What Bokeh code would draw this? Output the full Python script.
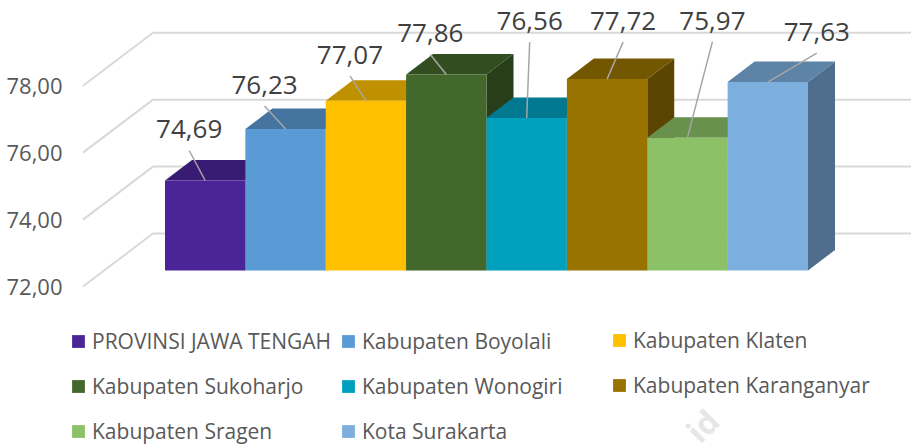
from bokeh.plotting import figure
from bokeh.embed import file_html
from bokeh.resources import INLINE
from bokeh.models import Legend, LegendItem, FixedTicker, Range1d
from bokeh.core.properties import value
import math

categories = ["PROVINSI JAWA TENGAH", "Kabupaten Boyolali", "Kabupaten Klaten", "Kabupaten Sukoharjo",
              "Kabupaten Wonogiri", "Kabupaten Karanganyar", "Kabupaten Sragen", "Kota Surakarta"]
values = [74.69, 76.23, 77.07, 77.86, 76.56, 77.72, 75.97, 77.63]
labels = ["74,69", "76,23", "77,07", "77,86", "76,56", "77,72", "75,97", "77,63"]
front_colors = ["#4B2597", "#5B9BD5", "#FFC000", "#43682B", "#00A0BF", "#997300", "#8CC168", "#7CAFDD"]
top_colors = ["#381C73", "#44749F", "#BF9000", "#324E20", "#00788F", "#735600", "#69914E", "#5D83A6"]
side_colors = ["#2C1659", "#365C7F", "#997300", "#283E1A", "#006072", "#5C4500", "#54743E", "#4F6E8D"]
ticks = [72, 74, 76, 78]
tick_labels = {72: "72,00", 74: "74,00", 76: "76,00", 78: "78,00"}

# px scales of the pseudo-3D projection
PX_X, PX_Y = 80.375, 33.46
leader_dx = [-16, -21, -16, -16, 3, 16, 25, 49]
leader_dy = [30, 23, 25, 20, 76, 37, 96, 29]
DEPTH_X, DEPTH_Y = 27 / PX_X, 20.5 / PX_Y       # bar depth
BASE = 72 + 16 / PX_Y                            # floor of the bars' front plane
WALL_X0, WALL_X1 = (83 - 165) / PX_X, (153 - 165) / PX_X
WALL_DY = 53 / PX_Y

p = figure(width=911, height=445, output_backend="svg", toolbar_location=None,
           x_range=Range1d((68 - 164.5) / PX_X, (911 - 164.5) / PX_X),
           y_range=Range1d(72 - (445 - 286) / PX_Y, 72 + 286 / PX_Y),
           min_border_left=68, min_border_right=0, min_border_top=0, min_border_bottom=0,
           outline_line_color=None)
p.xaxis.visible = False
p.xgrid.visible = False
p.ygrid.visible = False
ax = p.yaxis[0]
ax.ticker = FixedTicker(ticks=ticks)
ax.major_label_overrides = tick_labels
ax.axis_line_color = None
ax.major_tick_line_color = None
ax.minor_tick_line_color = None
ax.major_tick_out = 0
ax.major_label_standoff = 6
ax.major_label_text_font = "Open Sans"
ax.major_label_text_font_size = "22px"
ax.major_label_text_color = "#595959"

# walls / gridlines
x_end = 10.0
p.multi_line([[WALL_X0, WALL_X1, x_end] for _ in ticks],
             [[t, t + WALL_DY, t + WALL_DY] for t in ticks],
             line_color="#D9D9D9", line_width=2)

# faint watermark fragment at the lower edge
p.text([(702 - 165) / PX_X], [72 - (425 - 286) / PX_Y], text=["id"], text_font=value("Open Sans"),
       text_font_size="32px", text_font_style="bold", text_color="#E6E6E6", angle=math.pi / 4,
       text_align="center", text_baseline="middle")

items = []
for i, v in enumerate(values):
    l, r = i, i + 1
    t = v + (BASE - 72)
    p.patch([r, r + DEPTH_X, r + DEPTH_X, r], [BASE, BASE + DEPTH_Y, t + DEPTH_Y, t],
            fill_color=side_colors[i], line_color=None)
    p.patch([l, l + DEPTH_X, r + DEPTH_X, r], [t, t + DEPTH_Y, t + DEPTH_Y, t],
            fill_color=top_colors[i], line_color=None)
    q = p.quad(left=[l], right=[r], bottom=[BASE], top=[t], fill_color=front_colors[i], line_color=None)
    items.append(LegendItem(label=value(categories[i]), renderers=[q]))

for i, v in enumerate(values):
    t = v + (BASE - 72)
    xc = i + 0.5
    x2 = xc + leader_dx[i] / PX_X
    y2 = t + leader_dy[i] / PX_Y
    p.line([xc, x2], [t, y2], line_color="#A6A6A6", line_width=1.5)
    p.text([x2], [y2 + 21 / PX_Y], text=[labels[i]], text_font=value("Open Sans"),
           text_font_size="26px", text_color="#404040", text_align="center", text_baseline="middle")

for col, xpos, ypos in [(items[0::3], 4, 0), (items[1::3], 274, 0), (items[2::3], 545, 46)]:
    legend = Legend(items=col, location=(xpos - 2, ypos), orientation="vertical",
                    background_fill_alpha=0, border_line_color=None,
                    label_text_font="Open Sans", label_text_font_size="21px", label_text_color="#595959",
                    glyph_width=16, glyph_height=16, label_standoff=6, spacing=17, padding=0, margin=0)
    p.add_layout(legend, "center")

open("out.html", "w").write(file_html(p, INLINE))
